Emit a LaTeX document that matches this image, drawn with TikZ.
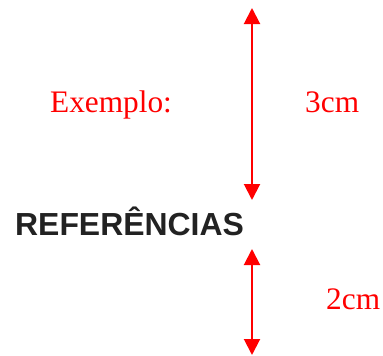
\documentclass[tikz,border=0pt]{standalone}
\usepackage{fontspec}
\setmainfont{Liberation Serif}
\newfontfamily\headfont{Liberation Sans}
\usetikzlibrary{arrows.meta}
\definecolor{headgray}{HTML}{222222}
\begin{document}
\begin{tikzpicture}[x=1pt,y=-1pt,
  redlabel/.style={text=red,font=\fontsize{31.3}{37}\selectfont,inner sep=0pt,anchor=base west},
  headlabel/.style={text=headgray,font=\headfont\bfseries\fontsize{31.9}{38}\selectfont,inner sep=0pt,anchor=base west},
  dimarrow/.style={red,line width=2pt,{Triangle[width=16pt,length=16pt]}-{Triangle[width=16pt,length=16pt]}}]
\useasboundingbox (0,0) rectangle (383,356);
\node[redlabel] (ex) at (50,112) {Exemplo:};
\node[redlabel] (three) at (305,112) {3cm};
\node[redlabel] (two) at (326,309) {2cm};
\node[headlabel] (ref) at (15,235) {REFERÊNCIAS};
\coordinate (a1) at (252,8);
\coordinate (a2) at (252,200);
\coordinate (b1) at (252,249);
\coordinate (b2) at (252,355);
\draw[dimarrow] (a1) -- (a2);
\draw[dimarrow] (b1) -- (b2);
\end{tikzpicture}
\end{document}
